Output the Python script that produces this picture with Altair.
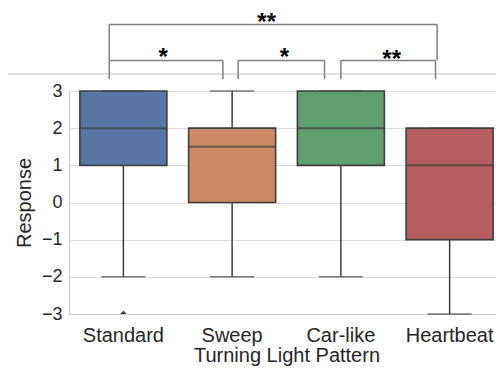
import altair as alt
import pandas as pd

# ---- data ----
categories = ["Standard", "Sweep", "Car-like", "Heartbeat"]
whisker_low = [-2, -2, -2, -3]
q1 = [1, 0, 1, -1]
median = [2, 1.5, 2, 1]
q3 = [3, 2, 3, 2]
whisker_high = [3, 3, 3, 2]
box_colors = ["#5975a4", "#cc8963", "#5f9e6e", "#b55d60"]

outlier_category = ["Standard"]
outlier_value = [-3]

# significance brackets (x in category-index units, y in response units)
bracket_left = [-0.13, 1.055, 2.0, -0.13]
bracket_right = [0.915, 1.85, 2.87, 2.885]
bracket_bottom = [3.32, 3.32, 3.32, 3.83]
bracket_top = [3.82, 3.82, 3.82, 4.79]
bracket_label = ["*", "*", "**", "**"]
label_x = [0.367, 1.48, 2.467, 1.318]
label_y = [3.70, 3.70, 3.645, 4.645]

separator_y = [3.457]
separator_x = [-1.06, 3.6]

FONT = "Liberation Sans"
DARK = "#3f3f3f"
PLOT_RANGE = [0, 435]

box_df = pd.DataFrame({
    "category": categories, "low": whisker_low, "q1": q1,
    "median": median, "q3": q3, "high": whisker_high,
})
out_df = pd.DataFrame({"category": outlier_category, "value": outlier_value})

seg_rows = []
for xl, xr, yb, yt in zip(bracket_left, bracket_right, bracket_bottom, bracket_top):
    seg_rows.append({"x": xl, "x2": xl, "y": yb, "y2": yt})
    seg_rows.append({"x": xr, "x2": xr, "y": yb, "y2": yt})
    seg_rows.append({"x": xl, "x2": xr, "y": yt, "y2": yt})
seg_df = pd.DataFrame(seg_rows)
lab_df = pd.DataFrame({"x": label_x, "y": label_y, "label": bracket_label})
sep_df = pd.DataFrame({"x": [separator_x[0]], "x2": [separator_x[1]],
                       "y": separator_y, "y2": separator_y})

x_band = alt.X(
    "category:N", sort=categories,
    scale=alt.Scale(domain=categories, paddingInner=0, paddingOuter=0,
                    range=PLOT_RANGE),
    axis=alt.Axis(title="Turning Light Pattern", labelAngle=0, ticks=False,
                  tickSize=0, labelPadding=11, grid=False,
                  domainColor="#cccccc", labelFontSize=20, titleFontSize=20,
                  titleX=217.5, titleY=47, titleBaseline="alphabetic"),
)
y_scale = alt.Scale(domain=[-3, 3], nice=False, zero=False)
y_axis = alt.Axis(title="Response", values=[-3, -2, -1, 0, 1, 2, 3], format="d",
                  ticks=False, tickSize=0, labelPadding=7, titlePadding=7,
                  grid=True, gridColor="#dcdcdc", gridWidth=1.2,
                  domainColor="#cccccc", labelFontSize=18, titleFontSize=20)


def Y(field):
    return alt.Y(field, scale=y_scale, axis=y_axis)


base = alt.Chart(box_df)

whisk_lo = base.mark_rule(color=DARK, strokeWidth=1.5).encode(
    x=x_band, y=Y("low:Q"), y2="q1:Q")
whisk_hi = base.mark_rule(color=DARK, strokeWidth=1.5).encode(
    x=x_band, y=Y("q3:Q"), y2="high:Q")
cap_lo = base.mark_tick(color=DARK, size=44, thickness=1.5).encode(
    x=x_band, y=Y("low:Q"))
cap_hi = base.mark_tick(color=DARK, size=44, thickness=1.5).encode(
    x=x_band, y=Y("high:Q"))
boxes = base.mark_bar(width=alt.RelativeBandSize(0.8), stroke=DARK,
                      strokeWidth=1.6).encode(
    x=x_band, y=Y("q1:Q"), y2="q3:Q",
    color=alt.Color("category:N", sort=categories,
                    scale=alt.Scale(domain=categories, range=box_colors),
                    legend=None),
)
medians = base.mark_tick(color=DARK, size=87, thickness=2).encode(
    x=x_band, y=Y("median:Q"))
outliers = alt.Chart(out_df).mark_point(
    shape="diamond", filled=True, size=45, color=DARK, opacity=1, clip=True
).encode(x=x_band, y=Y("value:Q"))

main = alt.layer(whisk_lo, whisk_hi, cap_lo, cap_hi, boxes, medians, outliers)

x_q = alt.Scale(domain=[-0.5, 3.5], nice=False, zero=False, range=PLOT_RANGE)
sep = alt.Chart(sep_df).mark_rule(color="#c8c8c8", strokeWidth=1.2).encode(
    x=alt.X("x:Q", scale=x_q, axis=None), x2="x2:Q",
    y=Y("y:Q"), y2="y2:Q")
brackets = alt.Chart(seg_df).mark_rule(color="#808080", strokeWidth=1.5).encode(
    x=alt.X("x:Q", scale=x_q, axis=None), x2="x2:Q",
    y=Y("y:Q"), y2="y2:Q")
labels = alt.Chart(lab_df).mark_text(
    font=FONT, fontSize=24, fontWeight="bold", baseline="alphabetic",
    align="center", color="black"
).encode(x=alt.X("x:Q", scale=x_q, axis=None), y=Y("y:Q"), text="label:N")

annot = alt.layer(sep, brackets, labels)

chart = alt.layer(main, annot).resolve_scale(x="independent").properties(
    width=427, height=223,
    autosize=alt.AutoSizeParams(type="none"),
    padding={"left": 61, "top": 83, "right": 0, "bottom": 52},
).configure(font=FONT).configure_view(stroke=None).configure_axis(
    labelColor="#262626", titleColor="#262626", labelFont=FONT, titleFont=FONT,
    titleFontWeight="normal",
)

chart.save("out.html", embed_options={"renderer": "svg", "actions": False})
